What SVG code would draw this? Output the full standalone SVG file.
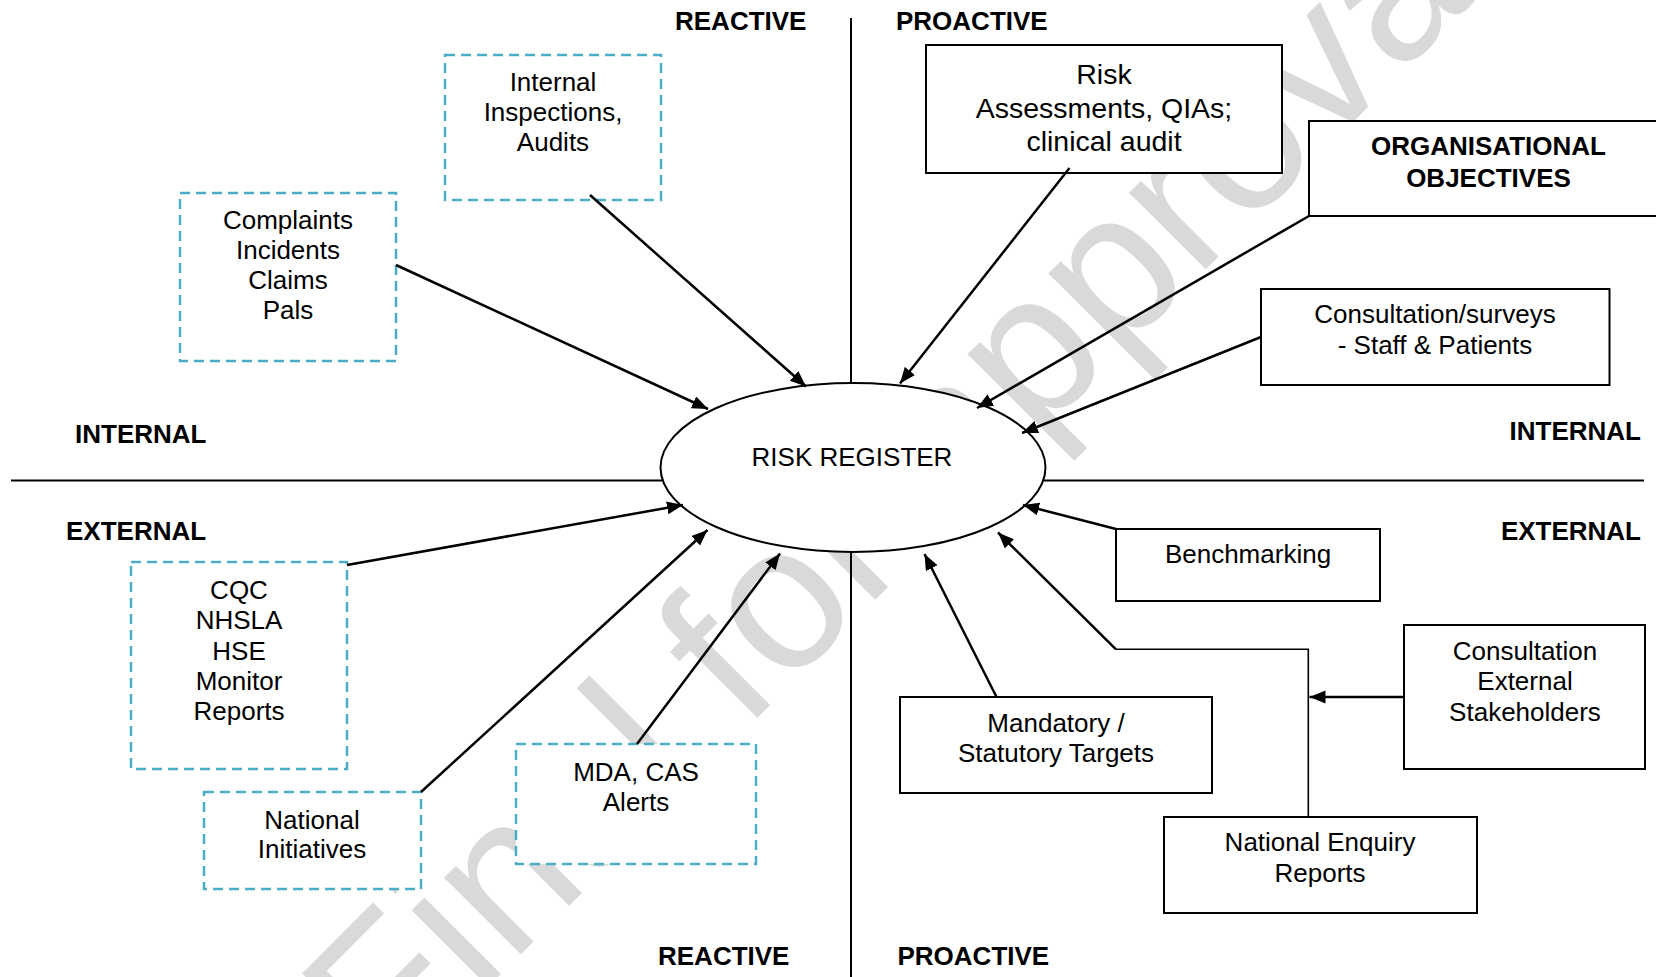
<svg xmlns="http://www.w3.org/2000/svg" width="1656" height="977" viewBox="0 0 1656 977">
  <defs>
    <style>
      text { font-family: "Liberation Sans", Arial, sans-serif; font-size: 26px; fill: #000; }
      .c { text-anchor: middle; }
      .hdr { font-weight: bold; }
      .big { font-size: 28.5px; }
      .mark { font-size: 205px; fill: #d9d9d9; text-anchor: middle; }
      .box { fill: #fff; stroke: #000; stroke-width: 2; }
      .dbox { fill: #fff; stroke: #4BACC6; stroke-width: 2.5; stroke-dasharray: 10 6; }
      .axis { stroke: #000; stroke-width: 2; fill: none; }
      .arr { stroke: #000; stroke-width: 2.5; fill: none; marker-end: url(#ah); }
      .thin { stroke: #000; stroke-width: 1.6; fill: none; }
    </style>
    <marker id="ah" markerUnits="userSpaceOnUse" markerWidth="17" markerHeight="14" refX="16" refY="6.5" orient="auto">
      <path d="M0,0 L16,6.5 L0,13 z" fill="#000"/>
    </marker>
  </defs>

  <rect width="1656" height="977" fill="#fff"/>

  <!-- watermark -->
  <text class="mark" x="950" y="525" transform="rotate(-45 950 525)">Final for approval</text>

  <!-- quadrant axes -->
  <g id="axes">
    <line class="axis" x1="851" y1="18" x2="851" y2="383"/>
    <line class="axis" x1="851" y1="552" x2="851" y2="977"/>
    <line class="axis" x1="11" y1="480.5" x2="662" y2="480.5"/>
    <line class="axis" x1="1044" y1="480.5" x2="1644" y2="480.5"/>
  </g>

  <!-- quadrant headings -->
  <g id="headings" class="hdr">
    <text class="hdr" x="675" y="30">REACTIVE</text>
    <text class="hdr" x="896" y="30">PROACTIVE</text>
    <text class="hdr" x="75" y="443">INTERNAL</text>
    <text class="hdr" x="1641" y="440" text-anchor="end">INTERNAL</text>
    <text class="hdr" x="66" y="540">EXTERNAL</text>
    <text class="hdr" x="1641" y="539.5" text-anchor="end">EXTERNAL</text>
    <text class="hdr" x="658" y="965">REACTIVE</text>
    <text class="hdr" x="897.5" y="964.5">PROACTIVE</text>
  </g>

  <!-- central register -->
  <g id="risk-register">
    <ellipse cx="853" cy="467.5" rx="192.5" ry="84.5" fill="#fff" stroke="#000" stroke-width="2"/>
    <text class="c" x="852" y="466">RISK REGISTER</text>
  </g>

  <!-- reactive / internal sources -->
  <g id="internal-inspections">
    <rect class="dbox" x="445" y="55" width="216" height="145"/>
    <text class="c" x="553" y="91">Internal</text>
    <text class="c" x="553" y="121">Inspections,</text>
    <text class="c" x="553" y="151">Audits</text>
  </g>

  <g id="complaints">
    <rect class="dbox" x="180" y="193" width="216" height="168"/>
    <text class="c" x="288" y="229">Complaints</text>
    <text class="c" x="288" y="259">Incidents</text>
    <text class="c" x="288" y="289">Claims</text>
    <text class="c" x="288" y="319">Pals</text>
  </g>

  <!-- proactive / internal sources -->
  <g id="risk-assessments">
    <rect class="box" x="926" y="45" width="356" height="128"/>
    <text class="c big" x="1104" y="84">Risk</text>
    <text class="c big" x="1104" y="118">Assessments, QIAs;</text>
    <text class="c big" x="1104" y="151">clinical audit</text>
  </g>

  <g id="organisational-objectives">
    <rect class="box" x="1309" y="121" width="400" height="95"/>
    <text class="c hdr" x="1488.5" y="155">ORGANISATIONAL</text>
    <text class="c hdr" x="1488.5" y="187">OBJECTIVES</text>
  </g>

  <g id="consultation-surveys">
    <rect class="box" x="1261" y="289" width="348.5" height="96"/>
    <text class="c" x="1435" y="323">Consultation/surveys</text>
    <text class="c" x="1435" y="354">- Staff &amp; Patients</text>
  </g>

  <!-- reactive / external sources -->
  <g id="regulators">
    <rect class="dbox" x="131" y="562" width="216" height="207"/>
    <text class="c" x="239" y="599">CQC</text>
    <text class="c" x="239" y="629">NHSLA</text>
    <text class="c" x="239" y="660">HSE</text>
    <text class="c" x="239" y="690">Monitor</text>
    <text class="c" x="239" y="720">Reports</text>
  </g>

  <g id="national-initiatives">
    <rect class="dbox" x="204" y="792" width="217" height="97"/>
    <text class="c" x="312" y="829">National</text>
    <text class="c" x="312" y="858">Initiatives</text>
  </g>

  <g id="mda-alerts">
    <rect class="dbox" x="516" y="744" width="240" height="120"/>
    <text class="c" x="636" y="780.5">MDA, CAS</text>
    <text class="c" x="636" y="810.5">Alerts</text>
  </g>

  <!-- proactive / external sources -->
  <g id="benchmarking">
    <rect class="box" x="1116" y="529" width="264" height="72"/>
    <text class="c" x="1248" y="563">Benchmarking</text>
  </g>

  <g id="consultation-external">
    <rect class="box" x="1404" y="625" width="241" height="144"/>
    <text class="c" x="1525" y="660">Consultation</text>
    <text class="c" x="1525" y="690">External</text>
    <text class="c" x="1525" y="721">Stakeholders</text>
  </g>

  <g id="mandatory-targets">
    <rect class="box" x="900" y="697" width="312" height="96"/>
    <text class="c" x="1056" y="732">Mandatory /</text>
    <text class="c" x="1056" y="762">Statutory Targets</text>
  </g>

  <g id="national-enquiry">
    <rect class="box" x="1164" y="817" width="313" height="96"/>
    <text class="c" x="1320" y="851">National Enquiry</text>
    <text class="c" x="1320" y="882">Reports</text>
  </g>

  <!-- connectors into the register -->
  <g id="connectors">
    <line class="arr" x1="590" y1="195" x2="806" y2="386.5"/>
    <line class="arr" x1="396" y1="265" x2="708" y2="409"/>
    <line class="arr" x1="1069.5" y1="168" x2="900" y2="383.5"/>
    <line class="arr" x1="1309" y1="216" x2="977" y2="408"/>
    <line class="arr" x1="1261" y1="337" x2="1022" y2="433"/>
    <line class="arr" x1="347" y1="565" x2="683" y2="505"/>
    <line class="arr" x1="421" y1="792" x2="707.5" y2="530"/>
    <line class="arr" x1="637" y1="744" x2="780" y2="553.5"/>
    <line class="arr" x1="1116" y1="529" x2="1023" y2="505"/>
    <line class="arr" x1="996.5" y1="697" x2="924.5" y2="554"/>
    <!-- national enquiry route: up, across, then into the register -->
    <polyline class="thin" points="1308.3,817 1308.3,649.3 1116,649.3"/>
    <line class="arr" x1="1116" y1="649.3" x2="998" y2="532.5"/>
    <line class="arr" x1="1404" y1="697" x2="1309.5" y2="697"/>
  </g>
</svg>
